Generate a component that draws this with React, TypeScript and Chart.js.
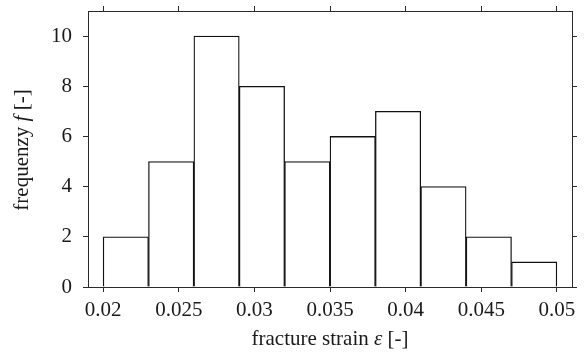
import React, { useEffect, useRef } from 'react';
import { Chart, registerables } from 'chart.js';

Chart.register(...registerables);

// Histogram bins (width 0.003), centres and counts
const binCenters = [0.0215, 0.0245, 0.0275, 0.0305, 0.0335, 0.0365, 0.0395, 0.0425, 0.0455, 0.0485];
const frequencies = [2, 5, 10, 8, 5, 6, 7, 4, 2, 1];
const xTickValues = [0.02, 0.025, 0.03, 0.035, 0.04, 0.045, 0.05];
const yTickValues = [0, 2, 4, 6, 8, 10];
const xTitleParts = [
  { text: 'fracture strain ', italic: false },
  { text: 'ε', italic: true },
  { text: ' [-]', italic: false },
];
const yTitleParts = [
  { text: 'frequenzy ', italic: false },
  { text: 'f', italic: true },
  { text: ' [-]', italic: false },
];

const FONT = "'Liberation Serif', 'Times New Roman', serif";
const INK = '#1a1a1a';
const LINE = '#2a2a2a';
const TICK_SIZE = 21;
const TITLE_SIZE = 21;

function drawParts(ctx: CanvasRenderingContext2D, parts: { text: string; italic: boolean }[], size: number) {
  const fontOf = (it: boolean) => `${it ? 'italic ' : ''}${size}px ${FONT}`;
  let total = 0;
  const widths = parts.map((p) => {
    ctx.font = fontOf(p.italic);
    const w = ctx.measureText(p.text).width;
    total += w;
    return w;
  });
  let x = -total / 2;
  parts.forEach((p, i) => {
    ctx.font = fontOf(p.italic);
    ctx.fillText(p.text, x, 0);
    x += widths[i];
  });
}

const titlePlugin = {
  id: 'mixedTitles',
  afterDraw(chart: any) {
    const { ctx, chartArea } = chart;
    ctx.save();
    ctx.fillStyle = INK;
    ctx.textBaseline = 'alphabetic';
    ctx.textAlign = 'left';
    ctx.save();
    ctx.translate((chartArea.left + chartArea.right) / 2, 345);
    drawParts(ctx, xTitleParts, TITLE_SIZE);
    ctx.restore();
    ctx.save();
    ctx.translate(28, (chartArea.top + chartArea.bottom) / 2 + 1);
    ctx.rotate(-Math.PI / 2);
    drawParts(ctx, yTitleParts, TITLE_SIZE);
    ctx.restore();
    ctx.restore();
  },
};

const noPad = (s: any) => {
  s.paddingLeft = 0;
  s.paddingRight = 0;
  s.paddingTop = 0;
  s.paddingBottom = 0;
};

export default function App() {
  const ref = useRef<HTMLCanvasElement | null>(null);

  useEffect(() => {
    document.body.style.margin = '0';
    const canvas = ref.current;
    if (!canvas) return;
    const tickFont = { family: FONT, size: TICK_SIZE };
    const gridCommon = { display: true, offset: false, drawOnChartArea: false, drawTicks: true, tickLength: 5, color: LINE, lineWidth: 1 };
    const borderCommon = { display: true, color: LINE, width: 1 };
    const chart = new Chart(canvas, {
      type: 'bar',
      data: {
        datasets: [
          {
            data: binCenters.map((x, i) => ({ x, y: frequencies[i] })),
            backgroundColor: '#ffffff',
            borderColor: '#111111',
            borderWidth: 1.3,
            barPercentage: 1,
            categoryPercentage: 1,
            grouped: false,
          } as any,
        ],
      },
      plugins: [titlePlugin],
      options: {
        animation: false,
        responsive: true,
        maintainAspectRatio: false,
        layout: { padding: 0 },
        plugins: { legend: { display: false }, tooltip: { enabled: false } },
        scales: {
          x: {
            type: 'linear',
            position: 'bottom',
            offset: false,
            min: 0.019,
            max: 0.051,
            grid: gridCommon,
            border: borderCommon,
            afterBuildTicks: (s: any) => { s.ticks = xTickValues.map((v) => ({ value: v })); },
            afterFit: (s: any) => { s.height = 66; noPad(s); },
            ticks: { font: tickFont, color: INK, padding: 6, maxRotation: 0, autoSkip: false, callback: (v: any) => String(v) },
          },
          x2: {
            type: 'linear',
            position: 'top',
            offset: false,
            min: 0.019,
            max: 0.051,
            grid: gridCommon,
            border: borderCommon,
            afterBuildTicks: (s: any) => { s.ticks = xTickValues.map((v) => ({ value: v })); },
            afterFit: (s: any) => { s.height = 11; noPad(s); },
            ticks: { color: 'rgba(0,0,0,0)', autoSkip: false, maxRotation: 0, callback: () => '' },
          },
          y: {
            type: 'linear',
            position: 'left',
            min: 0,
            max: 11,
            grid: gridCommon,
            border: borderCommon,
            afterBuildTicks: (s: any) => { s.ticks = yTickValues.map((v) => ({ value: v })); },
            afterFit: (s: any) => { s.width = 88; noPad(s); },
            ticks: { font: tickFont, color: INK, padding: 11, autoSkip: false, callback: (v: any) => String(v) },
          },
          y2: {
            type: 'linear',
            position: 'right',
            min: 0,
            max: 11,
            grid: gridCommon,
            border: borderCommon,
            afterBuildTicks: (s: any) => { s.ticks = yTickValues.map((v) => ({ value: v })); },
            afterFit: (s: any) => { s.width = 12; noPad(s); },
            ticks: { color: 'rgba(0,0,0,0)', autoSkip: false, callback: () => '' },
          },
        },
      } as any,
    });
    return () => chart.destroy();
  }, []);

  return (
    <div style={{ position: 'fixed', left: 0, top: 0, width: 584, height: 353 }}>
      <canvas ref={ref} />
    </div>
  );
}
